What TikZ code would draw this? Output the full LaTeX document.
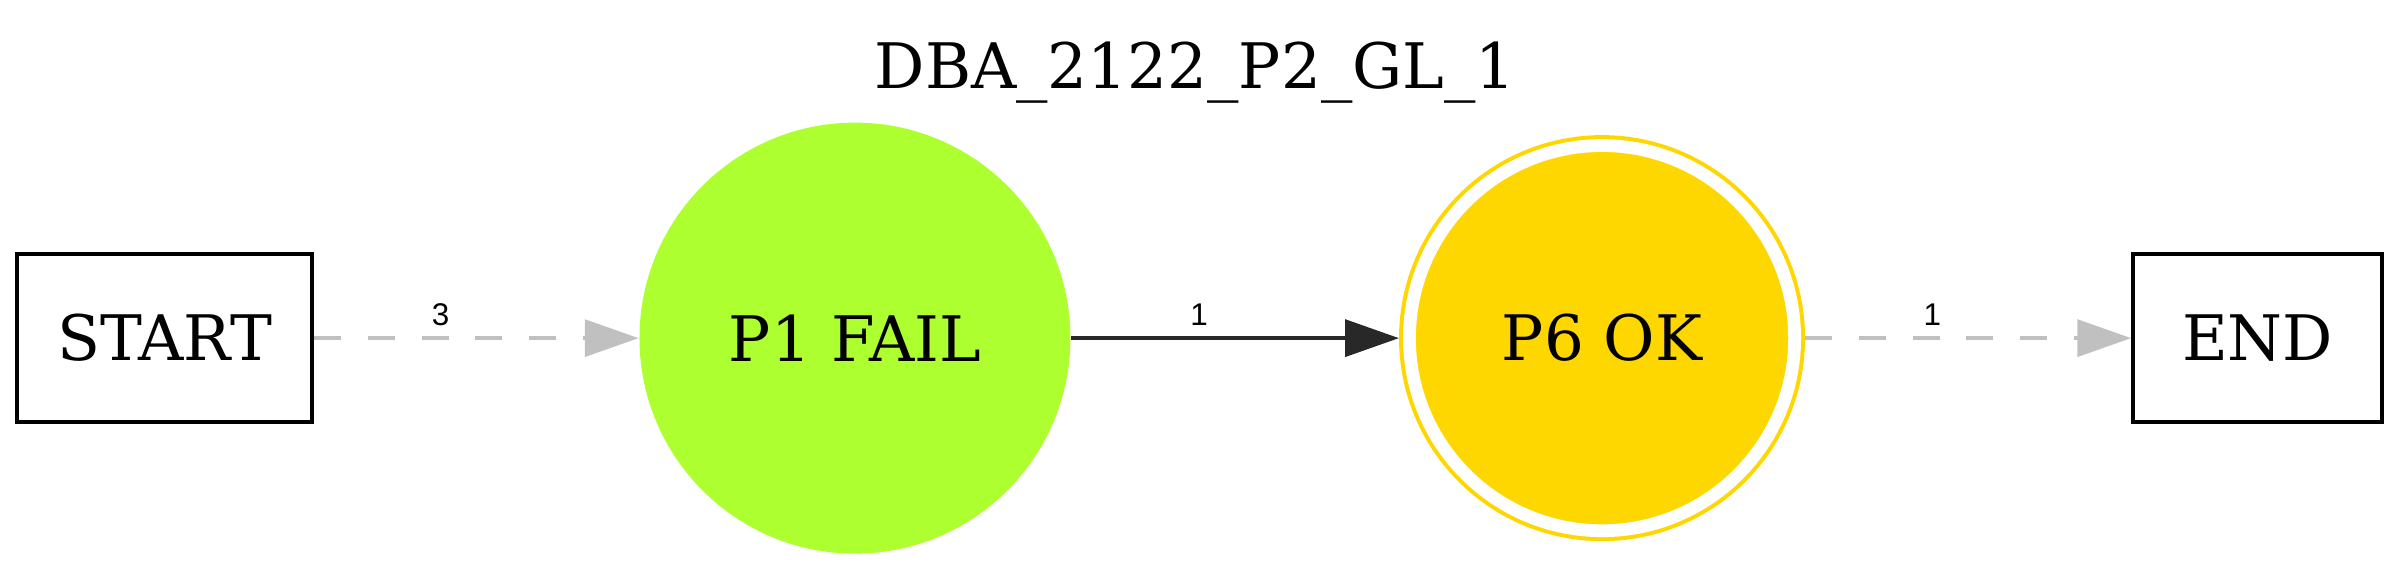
\documentclass[tikz,border=0pt]{standalone}
\usepackage{fontspec}
\setmainfont{DejaVu Serif}
\newfontfamily\labelfont{Liberation Sans}
\usetikzlibrary{positioning,
                arrows.meta}                % arrow tips

\definecolor{failgreen}{HTML}{ADFF2F}
\definecolor{okgold}{HTML}{FFD700}
\definecolor{edgegray}{HTML}{C0C0C0}
\definecolor{edgedark}{HTML}{282828}

\begin{document}
\begin{tikzpicture}[
        box/.style={draw, line width=0.9pt, minimum height=1.317cm, inner sep=0pt,
                    font=\fontsize{14}{16}\selectfont},
        state/.style={circle, inner sep=0pt, font=\fontsize{14}{16}\selectfont},
        elabel/.style={font=\labelfont\fontsize{7}{8}\selectfont, anchor=base,
                       pos=0.39, yshift=0.1cm},
        tip/.style={-{Triangle[length=12pt, width=8.2pt]}, line width=0.9pt}
    ]
                \useasboundingbox (0,0) rectangle (18.816,4.469);

                \node[anchor=base, font=\fontsize{14}{16}\selectfont] (title) at (9.37,3.779) {DBA\_2122\_P2\_GL\_1};

                \node[box, minimum width=2.313cm] (start) at (1.290,1.818) {START};
                \node[state, fill=failgreen, minimum size=3.379cm] (p1) at (6.703,1.818) {P1 FAIL};
                \node[state, fill=okgold, draw=okgold, line width=0.9pt, double=white,
                      double distance=0.1cm, minimum size=3.02cm, outer sep=0.082cm] (p6) at (12.56,1.818) {P6 OK};
                \node[box, minimum width=1.952cm] (end) at (17.70,1.818) {END};

                \draw[tip, edgegray, dash pattern=on 6pt off 6pt] (start) -- (p1) node[elabel, black] {3};
                \draw[tip, edgedark] (p1) -- (p6) node[elabel, black] {1};
                \draw[tip, edgegray, dash pattern=on 6pt off 6pt] (p6) -- (end) node[elabel, black] {1};

        \end{tikzpicture}
\end{document}
